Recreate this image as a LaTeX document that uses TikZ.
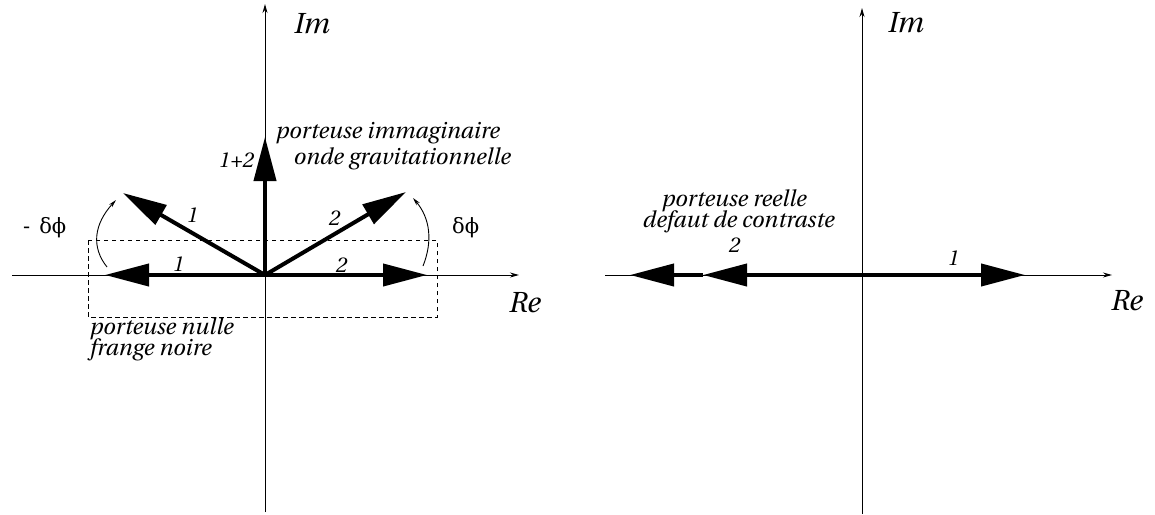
\documentclass[tikz,border=0pt]{standalone}
\usepackage[T1]{fontenc}
\usepackage{fontspec}
\newfontfamily\grkfont{DejaVu Serif}
\newcommand\chit{\fontencoding{T1}\fontfamily{put}\fontseries{m}\fontshape{it}\selectfont}
\usetikzlibrary{arrows.meta}
\begin{document}
\begin{tikzpicture}[x=1pt,y=-1pt,
 axis/.style={line width=1pt, -{Stealth[length=9pt,width=5pt]}},
 vec/.style={line width=4pt, -{Triangle[length=44pt,width=22pt]}},
 lbl/.style={inner sep=0pt, anchor=base west, font=\chit\fontsize{22.7}{23}\selectfont},
 num/.style={inner sep=0pt, anchor=base west, font=\chit\fontsize{21.5}{23}\selectfont},
 axlbl/.style={inner sep=0pt, anchor=base west, font=\chit\fontsize{29}{30}\selectfont},
 grk/.style={inner sep=0pt, anchor=base west, font=\grkfont\fontsize{21}{23}\selectfont},
 angarc/.style={line width=0.9pt, -{Stealth[length=8pt,width=4pt]}},
 boxline/.style={line width=0.9pt, dash pattern=on 4.5pt off 3.5pt}]
\useasboundingbox (0,0) rectangle (1155,514);
% ---------- left diagram ----------
\coordinate (O1) at (265,275);
\coordinate (xl1) at (12,275);
\coordinate (xr1) at (519,275);
\coordinate (yb1) at (265,512);
\coordinate (yt1) at (265,4);
\coordinate (p1h) at (105,275);
\coordinate (p2h) at (427,275);
\coordinate (p1r) at (123,193);
\coordinate (p2r) at (406,192);
\coordinate (p12) at (265,137);
\coordinate (bx1) at (88,240);
\coordinate (bx2) at (437,317);
\coordinate (la0) at (107,267);
\coordinate (la1) at (116,200);
\coordinate (ra0) at (423,266);
\coordinate (ra1) at (413,198);
\draw[axis] (xl1) -- (xr1);
\draw[axis] (yb1) -- (yt1);
\draw[boxline] (bx1) rectangle (bx2);
\draw[vec] (O1) -- (p1h);
\draw[vec] (O1) -- (p2h);
\draw[vec] (O1) -- (p1r);
\draw[vec] (O1) -- (p2r);
\draw[vec] (O1) -- (p12);
\draw[angarc] (la0) .. controls (91,247) and (94,224) .. (la1);
\draw[angarc] (ra0) .. controls (433,241) and (430,218) .. (ra1);
\node[axlbl] (im1) at (293,33) {Im};
\node[axlbl] (re1) at (508,312) {Re};
\node[lbl] (pim) at (275,138) {porteuse immaginaire};
\node[lbl] (ond) at (293,164) {onde gravitationnelle};
\node[num] (l12) at (218,167) {1+2};
\node[num] (l1r) at (186,222) {1};
\node[num] (l1h) at (172,271) {1};
\node[num] (l2r) at (328,225) {2};
\node[num] (l2h) at (335,272) {2};
\node[grk] (mdp) at (23,233) {-\hspace{9pt}δϕ};
\node[grk] (pdp) at (452,233) {δϕ};
\node[lbl] (pnu) at (89,334) {porteuse nulle};
\node[lbl] (fno) at (89,355) {frange noire};
% ---------- right diagram ----------
\coordinate (O2) at (862,275);
\coordinate (xl2) at (605,275);
\coordinate (xr2) at (1112,275);
\coordinate (yb2) at (862,514);
\coordinate (yt2) at (862,8);
\coordinate (q1) at (1025,275);
\coordinate (q2a) at (703,275);
\coordinate (q2b) at (630,275);
\draw[axis] (xl2) -- (xr2);
\draw[axis] (yb2) -- (yt2);
\draw[vec] (O2) -- (q1);
\draw[vec] (O2) -- (q2a);
\draw[vec] (q2a) -- (q2b);
\node[axlbl] (im2) at (887,32) {Im};
\node[axlbl] (re2) at (1110,310) {Re};
\node[lbl] (pre) at (661,206) {porteuse reelle};
\node[lbl] (dco) at (642,227) {defaut de contraste};
\node[num] (r2) at (728,252) {2};
\node[num] (r1) at (947,265) {1};
\end{tikzpicture}
\end{document}
